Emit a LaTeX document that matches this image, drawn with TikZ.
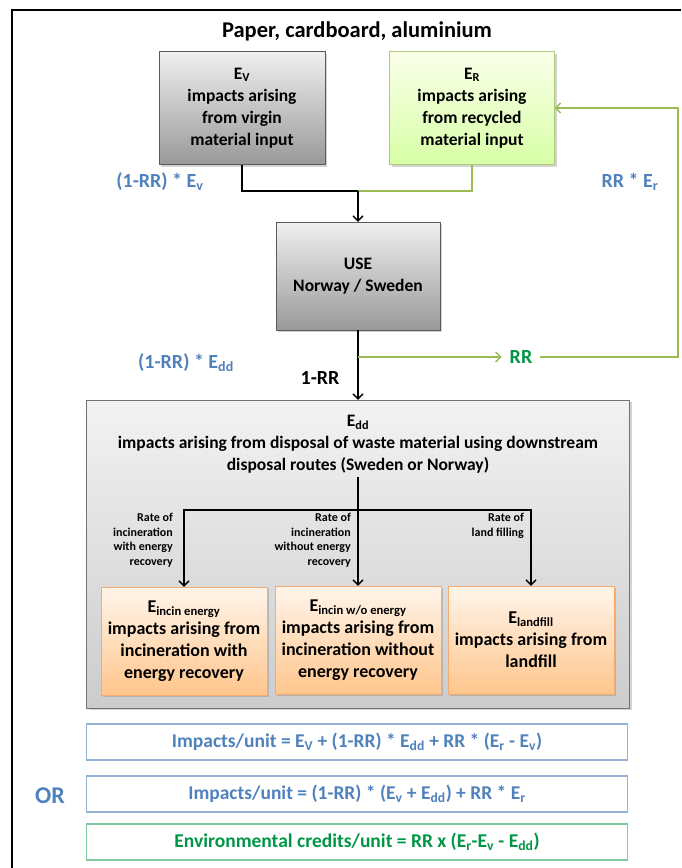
\documentclass[tikz,border=0pt]{standalone}
\usepackage{fontspec}
\setmainfont{Carlito}
\usepackage{xcolor}
\usetikzlibrary{positioning, calc, shadows, arrows.meta}
\definecolor{officeblue}{RGB}{79, 129, 189}
\definecolor{credgreen}{RGB}{0, 150, 70}
\definecolor{loopgreen}{RGB}{155, 187, 89}
\definecolor{boxgray}{RGB}{90, 90, 90}
\definecolor{orangeedge}{RGB}{247, 170, 110}

\newcommand{\lo}[1]{\textsubscript{#1}}

\tikzset{
    box/.style={draw, rectangle, align=center, inner sep=2pt,
        drop shadow={shadow xshift=2pt, shadow yshift=-2pt, opacity=0.35}},
    graybox/.style={box, draw=boxgray, top color=black!6, bottom color=black!40},
    greenbox/.style={box, draw=loopgreen!80, top color=green!20!yellow!8, bottom color=green!45!yellow!35},
    orangebox/.style={box, draw=orangeedge, top color=orange!8, bottom color=orange!45,
        minimum width=166, minimum height=108},
    formbox/.style={draw, rectangle, minimum width=541, minimum height=36, line width=1.2pt,
        font=\bfseries\fontsize{19.5}{22}\selectfont},
    bodytext/.style={font=\bfseries\fontsize{17.5}{22}\selectfont},
    boxtext/.style={font=\bfseries\fontsize{18}{22}\selectfont},
    flowlabel/.style={font=\bfseries\fontsize{20}{22}\selectfont},
    ratetext/.style={font=\bfseries\fontsize{12}{14.6}\selectfont, align=right, anchor=north east, inner sep=0pt},
    flow/.style={line width=1.3pt},
}

\begin{document}
\begin{tikzpicture}[x=1pt, y=-1pt, >={Straight Barb[length=5pt, width=10pt]}]
    \useasboundingbox (0,0) rectangle (681,868);

    % Frame
    \draw[line width=2.5pt] (12,868) -- (12,10) -- (681,10);

    % Title
    \node[font=\bfseries\fontsize{22.5}{24}\selectfont] (title) at (357,31) {Paper, cardboard, aluminium};

    % Input boxes
    \node[graybox, bodytext, minimum width=166, minimum height=113] (ev) at (242,108)
        {E\lo{V}\\impacts arising\\from virgin\\material input};
    \node[greenbox, bodytext, minimum width=165, minimum height=113] (er) at (472,108)
        {E\lo{R}\\impacts arising\\from recycled\\material input};

    % Use phase
    \node[graybox, bodytext, minimum width=164, minimum height=108] (use) at (358,276)
        {USE\\Norway / Sweden};

    % Downstream disposal
    \node[graybox, draw=black!55, top color=black!5, bottom color=black!20,
        minimum width=543, minimum height=308] (edd) at (358,554) {};
    \node[bodytext, align=center, below=12pt of edd.north] (eddtext)
        {E\lo{dd}\\impacts arising from disposal of waste material using downstream\\disposal routes (Sweden or Norway)};

    \node[orangebox, boxtext] (incen) at (184,641)
        {E\lo{incin energy}\\impacts arising from\\incineration with\\energy recovery};
    \node[orangebox, boxtext] (incno) at (358,640)
        {E\lo{incin w/o energy}\\impacts arising from\\incineration without\\energy recovery};
    \node[orangebox, boxtext] (land) at (531,640)
        {E\lo{landfill}\\impacts arising from\\landfill};

    % Rate labels
    \node[ratetext] (rateen) at (173,513) {Rate of\\incineration\\with energy\\recovery};
    \node[ratetext] (rateno) at (351,513) {Rate of\\incineration\\without energy\\recovery};
    \node[ratetext] (rateland) at (524,513) {Rate of\\land filling};

    % Flow labels
    \node[flowlabel, text=officeblue] (lblev) at (160,182) {(1-RR) * E\lo{v}};
    \node[flowlabel, text=officeblue] (lbler) at (630,182) {RR * E\lo{r}};
    \node[flowlabel, text=officeblue] (lbledd) at (186,363) {(1-RR) * E\lo{dd}};
    \node[flowlabel] (lblrest) at (320,378) {1-RR};
    \node[flowlabel, text=credgreen, inner xsep=8pt] (rr) at (521,357) {RR};

    % Connectors
    \coordinate (join) at (358,191);
    \coordinate (rrsplit) at (358,357);
    \coordinate (loopcorner) at (678,357);
    \coordinate (split) at (358,510);
    \draw[flow] (ev.south) |- (join);
    \draw[flow, loopgreen] (er.south) |- (join);
    \draw[flow, ->] (join) -- (use.north);
    \draw[flow, ->] (use.south) -- (edd.north);
    \draw[flow, loopgreen, ->] (rrsplit) -- (rr.west);
    \draw[flow, loopgreen, ->] (rr.east) -- (loopcorner) |- (er.east);
    \draw[flow, ->] (eddtext.south) -- (incno.north);
    \draw[flow, ->] (split) -| (incen.north);
    \draw[flow, ->] (split) -| (land.north);

    % Totals
    \node[formbox, draw=officeblue!60, text=officeblue] (form1) at (357,742)
        {Impacts/unit = E\lo{V} + (1-RR) * E\lo{dd} + RR * (E\lo{r} - E\lo{v})};
    \node[formbox, draw=officeblue!60, text=officeblue] (form2) at (357,794)
        {Impacts/unit = (1-RR) * (E\lo{v} + E\lo{dd}) + RR * E\lo{r}};
    \node[formbox, draw=credgreen!50, text=credgreen] (form3) at (357,842)
        {Environmental credits/unit = RR x (E\lo{r}-E\lo{v} - E\lo{dd})};
    \node[font=\bfseries\fontsize{24}{26}\selectfont, text=officeblue] (orlbl) at (50,796) {OR};
\end{tikzpicture}
\end{document}
